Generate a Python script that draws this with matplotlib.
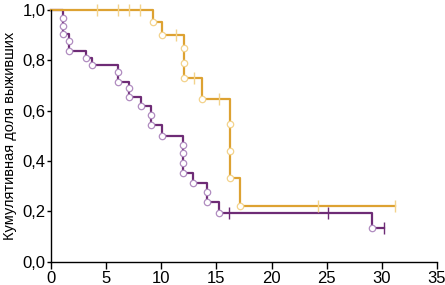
import matplotlib
matplotlib.use("Agg")
import matplotlib.pyplot as plt
from matplotlib.ticker import FuncFormatter

plt.rcParams['font.family'] = ['Liberation Sans Narrow', 'Liberation Sans', 'DejaVu Sans']

# purple group: event times and survival after each event
purple_t = [0, 1.1, 1.1, 1.1, 1.6, 1.6, 3.2, 3.7, 6.1, 6.1, 7.1, 7.1, 8.15,
            9.05, 9.05, 10.05, 12.0, 12.0, 12.0, 12.0, 12.9, 14.1, 14.1, 15.2, 29.1]
purple_s = [1.0, 0.968, 0.936, 0.902, 0.874, 0.838, 0.81, 0.78, 0.752, 0.712, 0.688,
            0.655, 0.618, 0.584, 0.542, 0.50, 0.463, 0.43, 0.393, 0.353, 0.313,
            0.278, 0.238, 0.195, 0.132]
purple_end = 30.2
purple_cens_t = [16.1, 25.1, 30.2]
purple_cens_s = [0.195, 0.195, 0.132]

# orange group
orange_t = [0, 9.25, 10.05, 12.1, 12.1, 12.1, 13.7, 16.2, 16.2, 16.2, 17.1]
orange_s = [1.0, 0.952, 0.90, 0.847, 0.787, 0.728, 0.646, 0.545, 0.44, 0.331, 0.222]
orange_end = 31.2
orange_cens_t = [4.15, 6.05, 7.1, 8.1, 11.3, 13.0, 15.2, 24.2, 31.2]
orange_cens_s = [1.0, 1.0, 1.0, 1.0, 0.9, 0.728, 0.646, 0.222, 0.222]

x_ticks = [0, 5, 10, 15, 20, 25, 30, 35]
y_ticks = [0.0, 0.2, 0.4, 0.6, 0.8, 1.0]

PURPLE = '#6E2C76'
PURPLE_LIGHT = '#B08CC0'
ORANGE = '#DDA232'
ORANGE_LIGHT = '#F3D38C'

fig = plt.figure(figsize=(4.45, 2.85), dpi=100)
ax = fig.add_axes([51/445, 23.3/285, 386/445, 252/285])

def draw_curve(t, s, end, ct, cs, col, light):
    ax.step(list(t) + [end], list(s) + [s[-1]], where='post', color=col, lw=1.6,
            clip_on=False, zorder=2)
    ax.plot(t[1:], s[1:], 'o', ms=4.6, mfc='white', mec=light, mew=0.9,
            clip_on=False, zorder=3)
    ax.plot(ct, cs, '|', ms=8, color=light if col == ORANGE else col, mew=1.0,
            clip_on=False, zorder=3)

draw_curve(purple_t, purple_s, purple_end, purple_cens_t, purple_cens_s, PURPLE, PURPLE_LIGHT)
draw_curve(orange_t, orange_s, orange_end, orange_cens_t, orange_cens_s, ORANGE, ORANGE_LIGHT)

ax.set_xlim(0, 35)
ax.set_ylim(0, 1.0)
ax.set_xticks(x_ticks)
ax.set_yticks(y_ticks)
ax.yaxis.set_major_formatter(FuncFormatter(lambda v, p: f"{v:.1f}".replace('.', ',')))
for sp in ['top', 'right']:
    ax.spines[sp].set_visible(False)
for sp in ['left', 'bottom']:
    ax.spines[sp].set_linewidth(1.0)
ax.tick_params(axis='x', direction='out', length=5, width=1, labelsize=12, pad=2)
ax.tick_params(axis='y', direction='out', length=3, width=1, labelsize=12, pad=1)
ax.set_ylabel('Кумулятивная доля выживших', fontsize=10.5, labelpad=4)

fig.savefig('out.png', dpi=100)
